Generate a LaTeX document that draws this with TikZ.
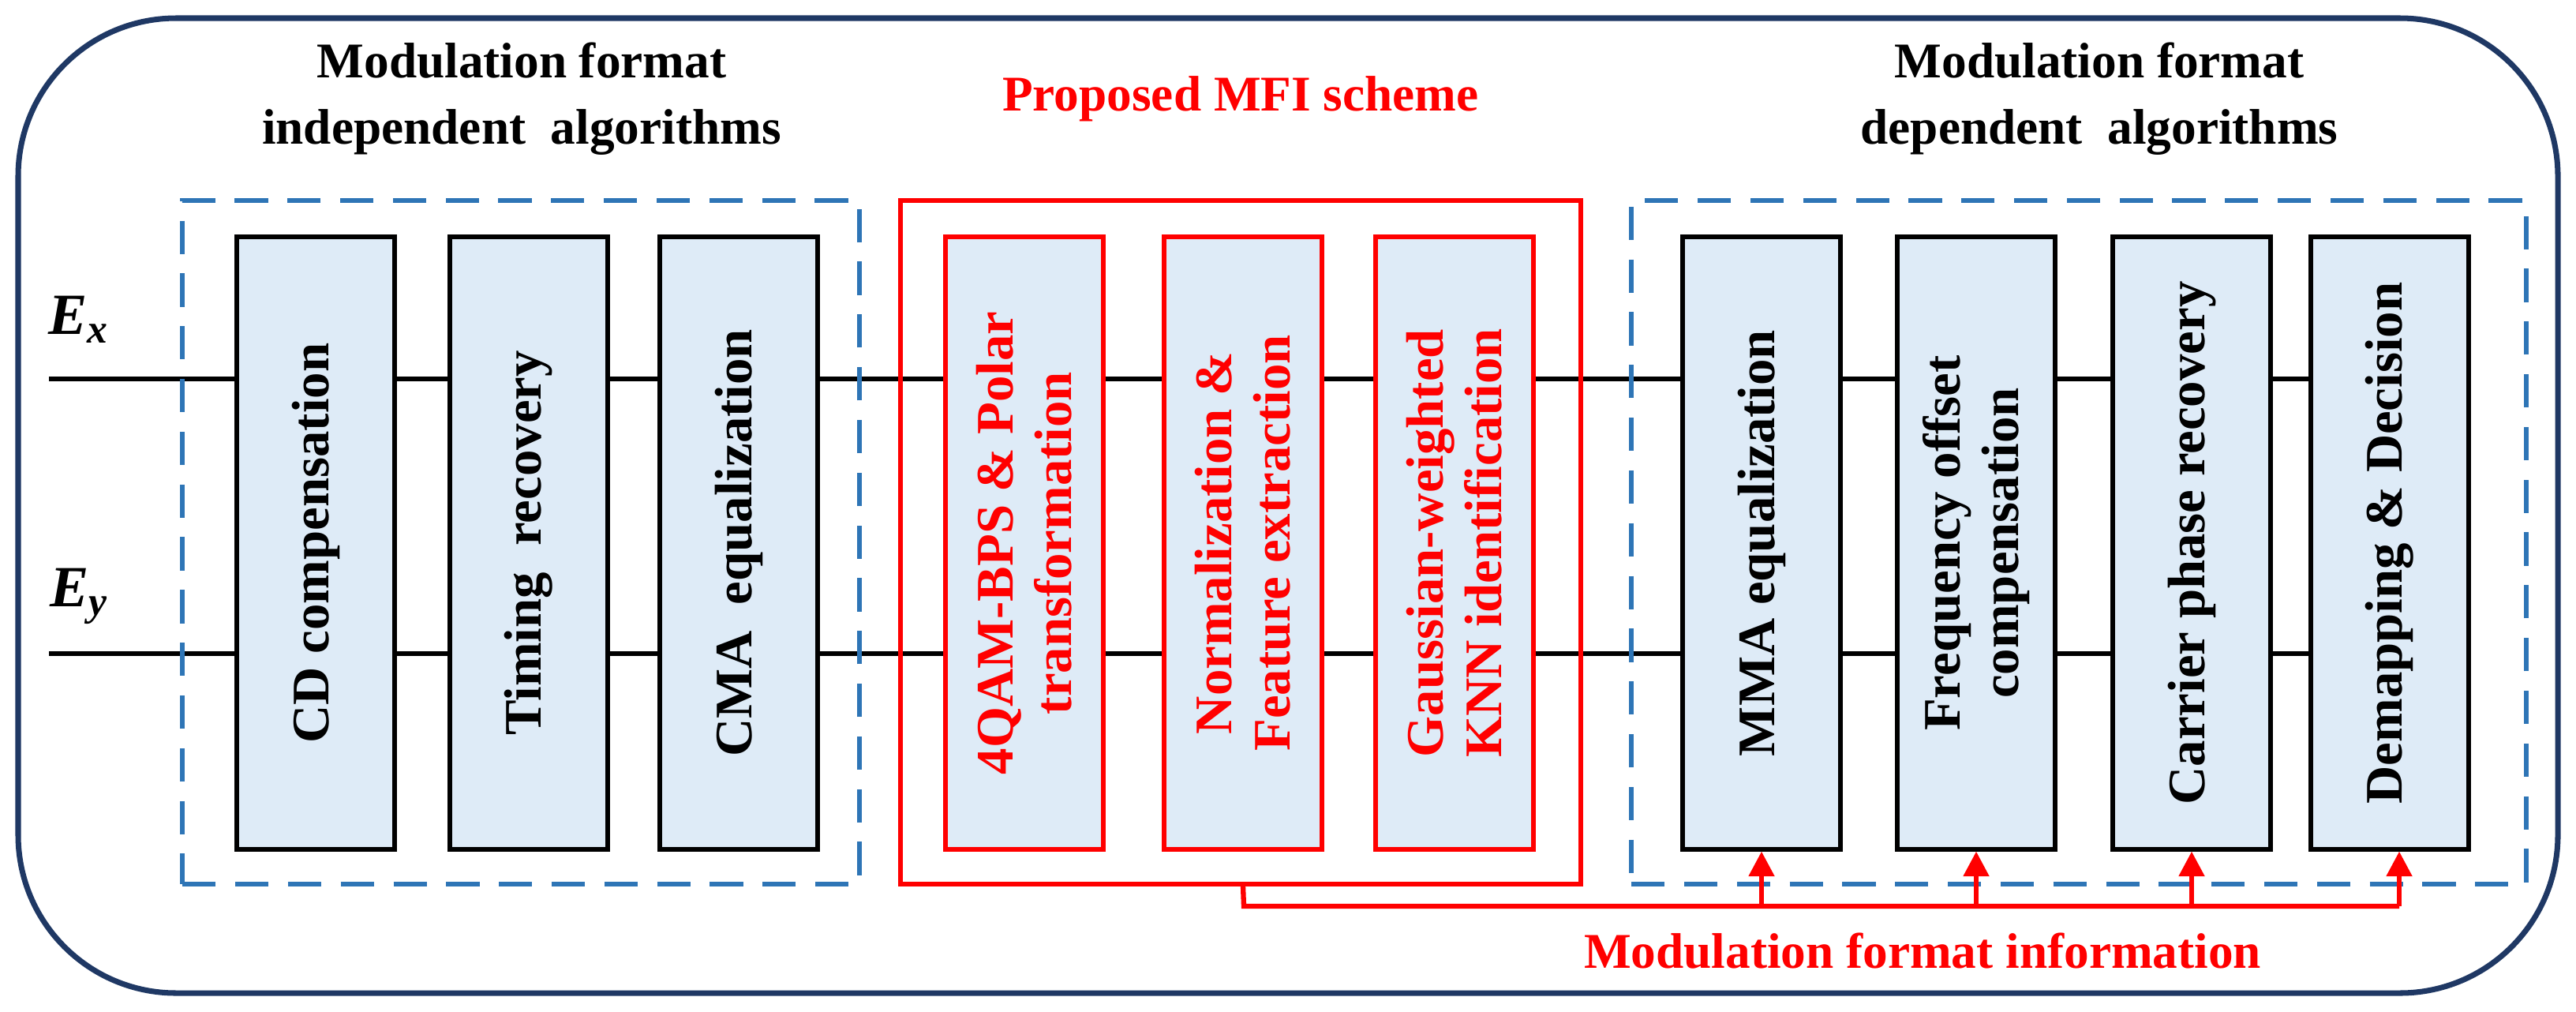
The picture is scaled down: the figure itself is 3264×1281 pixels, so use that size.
\documentclass[tikz,border=0pt]{standalone}
\usepackage{fontspec}
\setmainfont{Liberation Serif}
\usetikzlibrary{backgrounds,arrows.meta,calc}
\definecolor{navy}{HTML}{1F3864}
\definecolor{dashblue}{HTML}{2E75B6}
\definecolor{blockfill}{HTML}{DEEBF7}
\definecolor{mfired}{HTML}{FF0000}
\tikzset{
  blk/.style={draw=black, fill=blockfill, line width=1.6pt, rotate=90,
    minimum width=7.75cm, minimum height=2cm, align=center,
    font=\fontsize{19}{21}\selectfont\bfseries, inner sep=0pt},
  redblk/.style={blk, draw=mfired, text=mfired},
  grp/.style={draw=dashblue, line width=1.6pt, dash pattern=on 12pt off 7pt,
    minimum height=8.65cm, inner sep=0pt},
  ttl/.style={font=\fontsize{18}{24}\selectfont\bfseries, align=center},
  sig/.style={line width=1.5pt},
  fb/.style={draw=mfired, line width=1.8pt},
}
\begin{document}
\begin{tikzpicture}[x=0.01cm, y=-0.01cm]
\useasboundingbox (0,0) rectangle (3264,1281);
\draw[navy, line width=2pt, rounded corners=2cm] (23,23) rectangle (3241,1258);

% groups
\node[grp, minimum width=8.57cm] (indep) at (660,687) {};
\node[grp, minimum width=11.33cm] (dep) at (2634,687) {};
\node[draw=mfired, line width=1.6pt, minimum width=8.62cm, minimum height=8.65cm] (mfi) at (1572,687) {};

% titles
\node[ttl] (t1) at (661,125) {Modulation format\\independent\ \ algorithms};
\node[ttl, text=mfired] (t2) at (1572,125) {Proposed MFI scheme};
\node[ttl] (t3) at (2660,125) {Modulation format\\dependent\ \ algorithms};

% blocks
\node[blk] (cd) at (400,688) {CD compensation};
\node[blk] (tr) at (670,688) {Timing\ \ recovery};
\node[blk] (cma) at (936,688) {CMA\ \ equalization};
\node[redblk] (bps) at (1298,688) {4QAM-BPS \& Polar\\transformation};
\node[redblk] (norm) at (1575,688) {Normalization \&\\Feature extraction};
\node[redblk] (knn) at (1843,688) {Gaussian-weighted\\KNN identification};
\node[blk] (mma) at (2232,688) {MMA equalization};
\node[blk] (fo) at (2504,688) {Frequency offset\\compensation};
\node[blk] (cpr) at (2777,688) {Carrier phase recovery};
\node[blk] (dm) at (3028,688) {Demapping \& Decision};

% signals
\node[font=\fontsize{21}{22}\selectfont\bfseries\itshape] (ex) at (100,405) {E\textsubscript{\textit{x}}};
\node[font=\fontsize{21}{22}\selectfont\bfseries\itshape] (ey) at (100,755) {E\textsubscript{\textit{y}}};
\coordinate (ex0) at (62,480);
\coordinate (ey0) at (62,828);
\begin{scope}[on background layer]
\draw[sig] (ex0) -- (ex0 -| dm.center);
\draw[sig] (ey0) -- (ey0 -| dm.center);
\end{scope}

% feedback
\coordinate (fbl) at (1576,1148);
\coordinate (fbr) at (3040,1148);
\draw[fb] (norm.center |- mfi.south) -- (fbl) -- (fbr);
\foreach \b in {mma,fo,cpr}
  \draw[fb, -{Triangle[width=9pt,length=9pt]}] (fbl -| \b.center) -- (\b.west);
\draw[fb, -{Triangle[width=9pt,length=9pt]}] (fbr) -- (fbr |- dm.west);
\node[ttl, text=mfired] (info) at (2436,1205) {Modulation format information};
\end{tikzpicture}
\end{document}
